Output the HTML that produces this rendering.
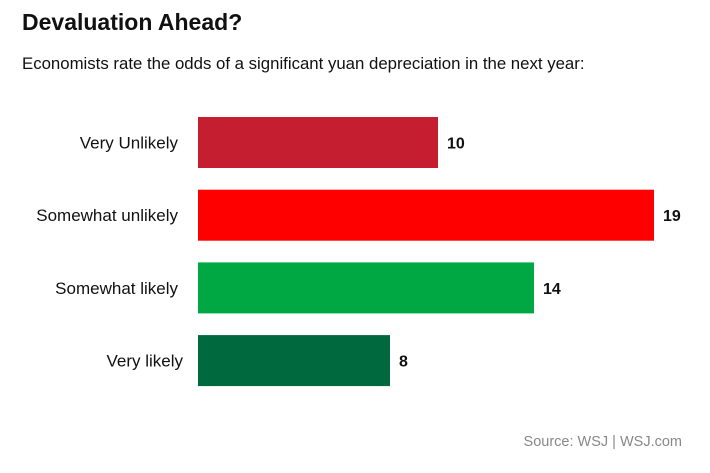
<!DOCTYPE html>
<html><head><meta charset="utf-8"><style>
body{margin:0;background:#fff;font-family:"Liberation Sans",Arial,sans-serif;}
svg{display:block}
</style></head><body>
<svg width="710" height="473">
<text x="22" y="30" font-size="23" font-weight="bold" fill="#111">Devaluation Ahead?</text>
<text x="22" y="69" font-size="16.8" fill="#111">Economists rate the odds of a significant yuan depreciation in the next year:</text>
<g id="bars"></g>
<text x="682" y="446" font-size="14.5" fill="#888" text-anchor="end" xml:space="preserve" style="white-space:pre">Source: WSJ | WSJ.com</text>
</svg>
<script>
const categories=["Very Unlikely","Somewhat unlikely","Somewhat likely","Very likely"];
const values=[10,19,14,8];
const colors=["#c41e30","#ff0000","#00a843","#006a3e"];
const x0=198, unit=24, y0=117, pitch=72.7, bh=51;
const xs=v=>x0+v*unit;
const ys=i=>y0+i*pitch;
const g=document.getElementById('bars');
const NS="http://www.w3.org/2000/svg";
categories.forEach((c,i)=>{
  const r=document.createElementNS(NS,'rect');
  r.setAttribute('x',x0);r.setAttribute('y',ys(i));
  r.setAttribute('width',xs(values[i])-x0);r.setAttribute('height',bh);
  r.setAttribute('fill',colors[i]);
  
  
  g.appendChild(r);
  const l=document.createElementNS(NS,'text');
  l.setAttribute('x',i==3?183:178);l.setAttribute('y',ys(i)+bh/2+6);
  l.setAttribute('text-anchor','end');l.setAttribute('font-size','17');l.setAttribute('fill','#111');
  l.textContent=c;
  
  
  g.appendChild(l);
  const v=document.createElementNS(NS,'text');
  v.setAttribute('x',xs(values[i])+9);v.setAttribute('y',ys(i)+bh/2+6);
  v.setAttribute('font-size','16');v.setAttribute('font-weight','bold');v.setAttribute('fill','#111');
  v.textContent=values[i];
  
  
  g.appendChild(v);
});
</script>
</body></html>
